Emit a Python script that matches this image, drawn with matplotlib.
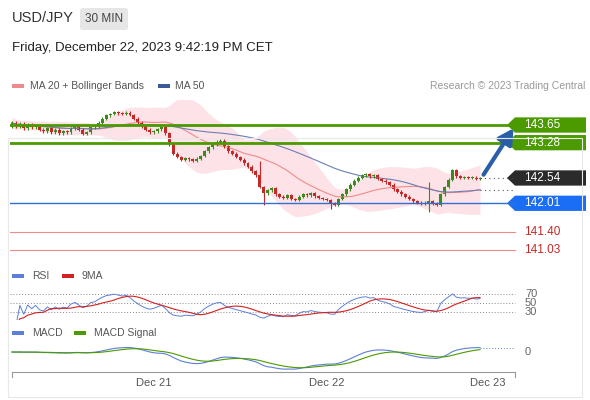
import matplotlib.pyplot as plt
import numpy as np
import pandas as pd
from matplotlib.patches import FancyBboxPatch, Polygon

# 30-minute closes, USD/JPY
closes = [
    143.70, 143.62, 143.68, 143.58, 143.66, 143.60, 143.64,
    143.55, 143.52, 143.58, 143.50, 143.55, 143.48, 143.52,
    143.50, 143.58, 143.62, 143.55, 143.47, 143.50, 143.60, 143.62,
    143.70, 143.78, 143.85, 143.88, 143.92, 143.90, 143.88, 143.91, 143.86,
    143.78, 143.70, 143.62, 143.55, 143.50, 143.52, 143.56, 143.60, 143.48,
    143.25, 143.05, 142.98, 142.92, 142.95, 142.93, 142.90, 142.94,
    143.00, 143.10, 143.18, 143.25, 143.30, 143.32, 143.20,
    143.10, 143.05, 142.98, 142.92, 142.85, 142.78, 142.68, 142.60,
    142.35, 142.22, 142.28, 142.32, 142.20, 142.15, 142.12, 142.18, 142.10, 142.08,
    142.15, 142.20, 142.18, 142.22, 142.16, 142.12, 142.10, 142.08, 142.00, 141.98,
    142.10, 142.20, 142.30, 142.40, 142.48, 142.55, 142.60, 142.62, 142.58, 142.60,
    142.52, 142.48, 142.45, 142.40, 142.30, 142.25, 142.20, 142.15, 142.10, 142.05, 142.02, 142.00, 142.02,
    142.05, 142.00, 141.98, 142.20, 142.35, 142.50, 142.70,
    142.58, 142.55, 142.56, 142.54, 142.55, 142.52, 142.54,
]
first_open = 143.62
spike_highs = {63: 142.90, 106: 142.45, 113: 142.72}
spike_lows = {81: 141.90, 106: 141.82, 64: 141.98}

resistances = [143.65, 143.28]
pivot = 142.54
supports = [142.01, 141.40, 141.03]
date_labels = ["Dec 21", "Dec 22", "Dec 23"]
date_pos = [36, 80, 121]
rsi_levels = [70, 50, 30]

W, H = 590, 400
GREEN, RED = "#4a9a00", "#c62828"
BLUE = "#2f6fd6"


def ax_px(fig, left, top, width, height):
    return fig.add_axes([left / W, 1 - (top + height) / H, width / W, height / H])


def clean(ax):
    ax.set_axis_off()


step = 3.933
x0 = 12
xlim = ((10 - x0) / step, (580 - x0) / step)
line_end = (515 - x0) / step

s = pd.Series(closes)
opens = pd.Series([first_open] + closes[:-1])
idx = np.arange(len(closes))
highs = np.maximum(opens, s) + 0.03
lows = np.minimum(opens, s) - 0.03
for k, v in spike_highs.items():
    highs[k] = v
for k, v in spike_lows.items():
    lows[k] = v

ma20 = s.rolling(20, min_periods=1).mean()
sd20 = s.rolling(20, min_periods=2).std().bfill()
ma50 = s.rolling(50, min_periods=1).mean()

delta = s.diff().fillna(0)
gain = delta.clip(lower=0).ewm(alpha=1 / 14).mean()
loss = (-delta.clip(upper=0)).ewm(alpha=1 / 14).mean()
rsi = 100 - 100 / (1 + gain / loss.replace(0, 1e-9))
rsi_ma = rsi.rolling(9, min_periods=1).mean()
macd = s.ewm(span=12).mean() - s.ewm(span=26).mean()
signal = macd.ewm(span=9).mean()

fig = plt.figure(figsize=(W / 100, H / 100), dpi=100)
plt.rcParams["font.family"] = ["Liberation Sans", "DejaVu Sans"]

# header
fig.text(12 / W, 1 - 18 / H, "USD/JPY", fontsize=10.5, color="#333333", va="center")
fig.patches.append(FancyBboxPatch((80 / W, 1 - 30 / H), 48 / W, 22 / H,
                                  boxstyle="round,pad=0,rounding_size=0.006",
                                  transform=fig.transFigure, fc="#e6e6e6", ec="none"))
fig.text(104 / W, 1 - 19 / H, "30 MIN", fontsize=8.5, color="#444444", ha="center", va="center")
fig.text(12 / W, 1 - 48 / H, "Friday, December 22, 2023 9:42:19 PM CET", fontsize=9.5,
         color="#222222", va="center")

# legend row
fig.patches.append(plt.Rectangle((12 / W, 1 - 88 / H), 12 / W, 4 / H, transform=fig.transFigure,
                                 fc="#f08a8a", ec="none"))
fig.text(30 / W, 1 - 86 / H, "MA 20 + Bollinger Bands", fontsize=7.5, color="#555555", va="center")
fig.patches.append(plt.Rectangle((158 / W, 1 - 88 / H), 12 / W, 4 / H, transform=fig.transFigure,
                                 fc="#3b5a9a", ec="none"))
fig.text(175 / W, 1 - 86 / H, "MA 50", fontsize=7.5, color="#555555", va="center")
fig.text(585 / W, 1 - 86 / H, "Research © 2023 Trading Central", fontsize=7.5, color="#999999",
         ha="right", va="center")

# main price panel
ptop, pbot = 144.174, 140.78
ax = ax_px(fig, 10, 100, 570, 162)
clean(ax)
ax.set_xlim(*xlim)
ax.set_ylim(pbot, ptop)
ax.fill_between(idx, ma20 - 2 * sd20, ma20 + 2 * sd20, color="#fddde1", alpha=0.8, lw=0)
ax.plot(idx, ma20, color="#f08a8a", lw=0.8)
ax.plot(idx, ma50, color="#6a7fb5", lw=0.8)
colors = np.where(s >= opens, "#3c8a1e", RED)
ax.vlines(idx, lows, highs, color=colors, lw=0.8)
ax.bar(idx, (s - opens).abs().clip(lower=0.012), bottom=np.minimum(opens, s), width=0.75,
       color=colors, lw=0)
for lvl in resistances:
    ax.plot([xlim[0], line_end], [lvl, lvl], color=GREEN, lw=2)
ax.plot([xlim[0], line_end], [supports[0]] * 2, color=BLUE, lw=1)
for lvl in supports[1:]:
    ax.plot([xlim[0], line_end], [lvl, lvl], color="#f08a8a", lw=0.8)
ax.plot([idx[-1], line_end], [pivot, pivot], color="#555555", lw=0.8, ls=(0, (1, 3)))
ax.plot([idx[-1], line_end], [ma50.iloc[-1]] * 2, color="#555555", lw=0.8, ls=(0, (1, 3)))
ax.annotate("", xy=((515 - x0) / step, resistances[0] - 0.02),
            xytext=(idx[-1] + 0.5, pivot + 0.02),
            arrowprops=dict(arrowstyle="-|>,head_length=0.9,head_width=0.5", color="#2a5fa8", lw=3))


def tag(y, text, fc):
    x1, x2 = (515 - x0) / step, (586 - x0) / step
    tip = (507 - x0) / step
    h = 0.16
    ax.add_patch(Polygon([(tip, y), (x1, y + h), (x2, y + h), (x2, y - h), (x1, y - h)],
                         closed=True, fc=fc, ec="none", clip_on=False))
    ax.text((524 - x0) / step, y, text, color="white", fontsize=8.5, va="center")


tag(resistances[0], "143.65", GREEN)
tag(resistances[1], "143.28", GREEN)
tag(pivot, "142.54", "#2b2b2b")
tag(supports[0], "142.01", "#1a6ef5")
for lvl in supports[1:]:
    ax.text((524 - x0) / step, lvl, f"{lvl:.2f}", color=RED, fontsize=8.5, va="center")

# RSI panel
fig.patches.append(plt.Rectangle((12 / W, 1 - 278 / H), 12 / W, 4 / H, transform=fig.transFigure,
                                 fc="#5b7fd8", ec="none"))
fig.text(32 / W, 1 - 276 / H, "RSI", fontsize=7.5, color="#555555", va="center")
fig.patches.append(plt.Rectangle((62 / W, 1 - 278 / H), 12 / W, 4 / H, transform=fig.transFigure,
                                 fc="#d42020", ec="none"))
fig.text(82 / W, 1 - 276 / H, "9MA", fontsize=7.5, color="#555555", va="center")
ar = ax_px(fig, 10, 285, 570, 35)
clean(ar)
ar.set_xlim(*xlim)
ar.set_ylim(12.2, 90)
for lvl in rsi_levels:
    ar.plot([xlim[0], line_end], [lvl, lvl], color="#888888", lw=0.7, ls=(0, (1, 2)))
    ar.text((525 - x0) / step, lvl, str(lvl), fontsize=8, color="#666666", va="center")
ar.plot(idx, rsi, color="#5b7fd8", lw=0.7)
ar.plot(idx, rsi_ma, color="#d42020", lw=0.8)

# MACD panel
fig.patches.append(plt.Rectangle((12 / W, 1 - 335 / H), 12 / W, 4 / H, transform=fig.transFigure,
                                 fc="#5b7fd8", ec="none"))
fig.text(32 / W, 1 - 333 / H, "MACD", fontsize=7.5, color="#555555", va="center")
fig.patches.append(plt.Rectangle((74 / W, 1 - 335 / H), 12 / W, 4 / H, transform=fig.transFigure,
                                 fc=GREEN, ec="none"))
fig.text(94 / W, 1 - 333 / H, "MACD Signal", fontsize=7.5, color="#555555", va="center")
am = ax_px(fig, 10, 342, 570, 28)
clean(am)
am.set_xlim(*xlim)
lo = min(macd.min(), signal.min()) * 1.05
am.set_ylim(lo, -lo * 10 / 18)
am.plot(idx, macd, color="#5b7fd8", lw=0.8)
am.plot(idx, signal, color=GREEN, lw=0.8)
am.plot([idx[-1], line_end], [macd.iloc[-1]] * 2, color="#5b7fd8", lw=0.7, ls=(0, (1, 2)))
am.text((525 - x0) / step, 0, "0", fontsize=8, color="#666666", va="center")

# time axis
at = ax_px(fig, 10, 362, 570, 30)
clean(at)
at.set_xlim(*xlim)
at.set_ylim(0, 30)
at.plot([0, 0, line_end, line_end], [15, 20, 20, 15], color="#999999", lw=0.8)
for p, lab in zip(date_pos, date_labels):
    at.text(p, 9, lab, fontsize=8, color="#555555", ha="center", va="center")

# lower frame
fig.patches.append(plt.Rectangle((8 / W, 3 / H), 574 / W, 259 / H, transform=fig.transFigure,
                                 fc="none", ec="#e8e8e8", lw=0.8))

fig.savefig("out.png", dpi=100)
